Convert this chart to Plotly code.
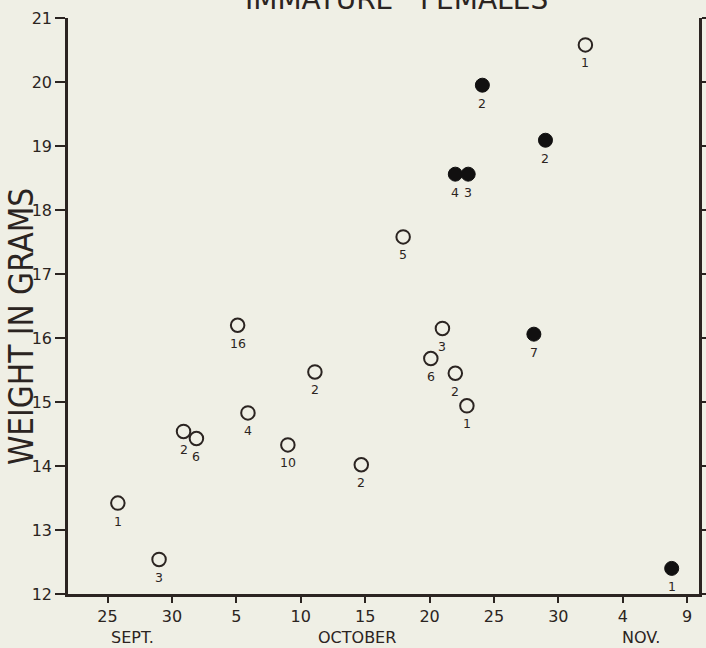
import plotly.graph_objects as go

# days after 25 September
open_days = [0.8, 4.0, 5.9, 6.9, 10.1, 10.9, 14.0, 16.1, 19.7, 22.95, 25.1, 26.0, 27.0, 27.9, 37.1]
open_weight = [13.42, 12.54, 14.54, 14.43, 16.2, 14.83, 14.33, 15.47, 14.02, 17.58, 15.68, 16.15, 15.45, 14.94, 20.58]
open_count = [1, 3, 2, 6, 16, 4, 10, 2, 2, 5, 6, 3, 2, 1, 1]

filled_days = [27.0, 28.0, 29.1, 33.1, 34.0, 43.8]
filled_weight = [18.56, 18.56, 19.95, 16.06, 19.09, 12.4]
filled_count = [4, 3, 2, 7, 2, 1]

x_tickvals = [0, 5, 10, 15, 20, 25, 30, 35, 40, 45]
x_ticktext = ["25", "30", "5", "10", "15", "20", "25", "30", "4", "9"]
y_tickvals = [12, 13, 14, 15, 16, 17, 18, 19, 20, 21]
y_ticktext = ["12", "13", "14", "15", "16", "17", "18", "19", "20", "21"]

month_labels = ["SEPT.", "OCTOBER", "NOV."]
month_pos = [1.96, 19.4, 41.45]

INK = "#2b2421"
BG = "#efefe5"
FONT = "DejaVu Sans"

fig = go.Figure()
fig.add_trace(go.Scatter(
    x=open_days, y=open_weight, mode="markers",
    marker=dict(symbol="circle-open", size=13.5, color=INK, line=dict(width=2, color=INK)),
    showlegend=False, hoverinfo="skip"))
fig.add_trace(go.Scatter(
    x=filled_days, y=filled_weight, mode="markers",
    marker=dict(symbol="circle", size=14, color="#111010", line=dict(width=1, color="#111010")),
    showlegend=False, hoverinfo="skip"))

annotations = []
for xs, ys, ns in [(open_days, open_weight, open_count), (filled_days, filled_weight, filled_count)]:
    for x, y, n in zip(xs, ys, ns):
        annotations.append(dict(x=x, y=y, xref="x", yref="y", text=str(n), showarrow=False,
                                yshift=-18, font=dict(family=FONT, size=12.5, color=INK)))
for t, p in zip(month_labels, month_pos):
    annotations.append(dict(x=p, y=0, xref="x", yref="paper", text=t, showarrow=False,
                            yanchor="middle", yshift=-43, font=dict(family=FONT, size=16, color=INK)))
annotations.append(dict(x=0, y=0.4635, xref="paper", yref="paper", text="WEIGHT IN GRAMS",
                        showarrow=False, textangle=-90, xshift=-47, xanchor="center", yanchor="middle",
                        font=dict(family="DejaVu Sans Condensed", size=33, color=INK)))
annotations.append(dict(x=0.521, y=1.0, xref="paper", yref="paper",
                        text="IMMATURE\u00a0\u00a0\u00a0FEMALES", showarrow=False,
                        yanchor="bottom", yshift=0, font=dict(family=FONT, size=28, color=INK)))

fig.update_layout(
    width=706, height=648, autosize=False,
    margin=dict(l=68, r=7, t=18, b=54, autoexpand=False),
    paper_bgcolor=BG, plot_bgcolor=BG,
    annotations=annotations,
    xaxis=dict(range=[-3.07, 45.92], tickvals=x_tickvals, ticktext=x_ticktext, automargin=False,
               showgrid=False, zeroline=False, showline=True, linecolor=INK, linewidth=2.5,
               ticks="outside", ticklen=6, tickwidth=2, tickcolor=INK,
               tickfont=dict(family=FONT, size=16, color=INK)),
    yaxis=dict(range=[12, 21], tickvals=y_tickvals, ticktext=y_ticktext, automargin=False,
               showgrid=False, zeroline=False, showline=True, linecolor=INK, linewidth=2.5,
               mirror="ticks", ticks="outside", ticklen=10, tickwidth=2, tickcolor=INK,
               tickfont=dict(family=FONT, size=16, color=INK)),
)

fig.write_html("out.html", config={"displayModeBar": False},
               post_script="document.body.style.margin='0';document.body.style.padding='0';"
                           "document.body.style.background='" + BG + "';")
